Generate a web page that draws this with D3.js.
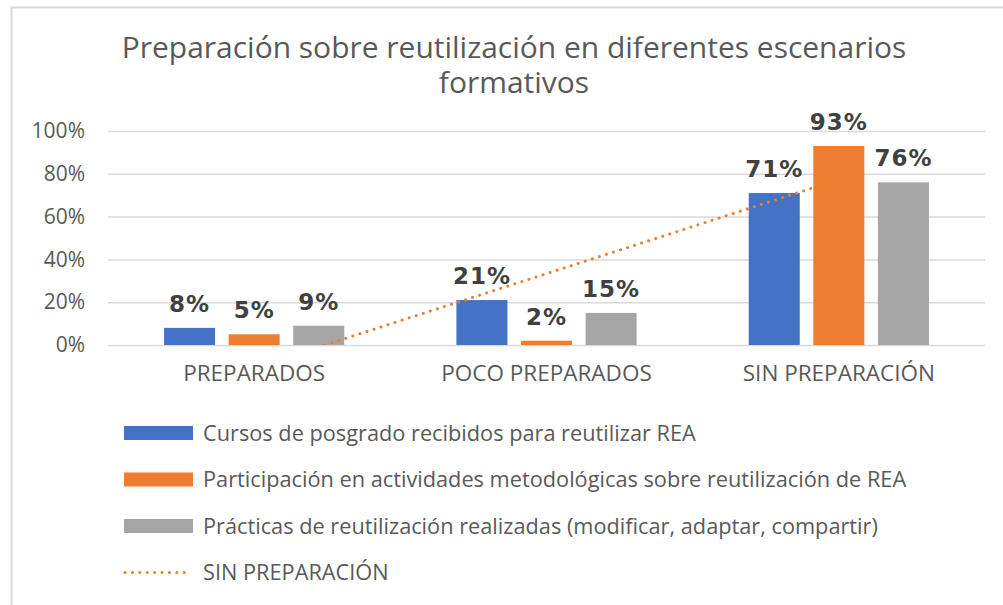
<!DOCTYPE html>
<html>
<head>
<meta charset="utf-8">
<script src="https://cdn.jsdelivr.net/npm/d3@7"></script>
<style>
  body { margin: 0; background: #fff; }
  svg { display: block; }
  .tick text { fill: #595959; }
</style>
</head>
<body>
<div id="chart"></div>
<script>
    'use strict';
    var titleLines = ['Preparación sobre reutilización en diferentes escenarios', 'formativos'];
    var categories = ['PREPARADOS', 'POCO PREPARADOS', 'SIN PREPARACIÓN'];
    var seriesNames = [
        'Cursos de posgrado recibidos para reutilizar REA',
        'Participación en actividades metodológicas sobre reutilización de REA',
        'Prácticas de reutilización realizadas (modificar, adaptar, compartir)'
    ];
    var cursos = [0.08, 0.21, 0.71];
    var participacion = [0.05, 0.02, 0.93];
    var practicas = [0.09, 0.15, 0.76];
    var trendName = 'SIN PREPARACIÓN';
    var yTicks = [0, 0.2, 0.4, 0.6, 0.8, 1];
    var colors = ['#4472C4', '#ED7D31', '#A5A5A5'];

    var values = [cursos, participacion, practicas];
    var width = 1003, height = 605;
    var margin = { top: 131, right: 18, bottom: 260, left: 108 };

    var svg = d3.select('#chart').append('svg')
        .attr('width', width)
        .attr('height', height);

    // chart area border (cut by the window on the right and bottom)
    svg.append('rect')
        .attr('x', 11.5).attr('y', 7.5)
        .attr('width', 1100).attr('height', 700)
        .attr('fill', 'none')
        .attr('stroke', '#d9d9d9')
        .attr('stroke-width', 2);

    var x = d3.scaleBand()
        .domain(categories)
        .range([margin.left, width - margin.right]);
    var xs = d3.scaleBand()
        .domain(d3.range(seriesNames.length))
        .range([0, x.bandwidth()])
        .paddingInner(0.21)
        .paddingOuter(0.868);
    var y = d3.scaleLinear()
        .domain([0, 1])
        .range([height - margin.bottom, margin.top]);

    // shrink or grow a text so that it takes the width
    function fitWidth(sel, base, target) {
        sel.style('font-size', base + 'px');
        var w = sel.node().getComputedTextLength();
        sel.style('font-size', (base * target / w) + 'px');
        return base * target / w;
    }

    // title
    var title = svg.append('text')
        .attr('text-anchor', 'middle')
        .attr('fill', '#595959')
        .style('font-family', 'Open Sans');
    title.selectAll('tspan').data(titleLines).enter().append('tspan')
        .attr('x', 514)
        .attr('y', function (d, i) { return 58 + i * 35; })
        .text(function (d) { return d; });
    var tsize = 26;
    title.style('font-size', tsize + 'px');
    var tw = title.select('tspan').node().getComputedTextLength();
    title.style('font-size', (tsize * 785 / tw) + 'px');

    // grid + y axis
    var yAxis = svg.append('g')
        .attr('transform', 'translate(' + margin.left + ',0)')
        .call(d3.axisLeft(y).tickValues(yTicks).tickFormat(d3.format('.0%'))
            .tickSize(-(width - margin.left - margin.right)).tickPadding(23));
    yAxis.select('.domain').remove();
    yAxis.selectAll('.tick line').attr('stroke', '#d9d9d9').attr('stroke-width', 1.5);
    yAxis.selectAll('.tick text')
        .style('font-family', 'Open Sans')
        .style('font-size', '21px');

    // x axis labels
    var xAxis = svg.append('g')
        .attr('transform', 'translate(0,' + y(0) + ')')
        .call(d3.axisBottom(x).tickSize(0).tickPadding(20));
    xAxis.select('.domain').remove();
    xAxis.selectAll('.tick text')
        .style('font-family', 'Open Sans')
        .style('font-size', '22.5px');

    function drawSeries(s) {
        svg.append('g').selectAll('rect')
            .data(values[s]).enter().append('rect')
            .attr('x', function (d, i) { return x(categories[i]) + xs(s); })
            .attr('y', function (d) { return y(d); })
            .attr('width', xs.bandwidth())
            .attr('height', function (d) { return y(0) - y(d); })
            .attr('fill', colors[s]);
    }

    // linear trendline of the orange series
    var idx = d3.range(categories.length);
    var mx = d3.mean(idx), my = d3.mean(participacion);
    var slope = d3.sum(idx, function (i) { return (i - mx) * (participacion[i] - my); }) /
        d3.sum(idx, function (i) { return (i - mx) * (i - mx); });
    var trend = idx.map(function (i) { return my + slope * (i - mx); });

    svg.append('defs').append('clipPath').attr('id', 'plotclip')
        .append('rect')
        .attr('x', margin.left).attr('y', margin.top)
        .attr('width', width - margin.left - margin.right)
        .attr('height', y(0) - margin.top);

    drawSeries(0);
    drawSeries(2);
    svg.append('path')
        .datum(trend)
        .attr('clip-path', 'url(#plotclip)')
        .attr('fill', 'none')
        .attr('stroke', colors[1])
        .attr('stroke-width', 3)
        .attr('stroke-linecap', 'round')
        .attr('stroke-dasharray', '0.1 7.3')
        .attr('d', d3.line()
            .x(function (d, i) { return x(categories[i]) + x.bandwidth() / 2; })
            .y(function (d) { return y(d); }));
    drawSeries(1);

    // data labels
    values.forEach(function (vals, s) {
        svg.append('g').selectAll('text')
            .data(vals).enter().append('text')
            .attr('x', function (d, i) { return x(categories[i]) + xs(s) + xs.bandwidth() / 2; })
            .attr('y', function (d) { return y(d) - 16; })
            .attr('text-anchor', 'middle')
            .attr('fill', '#404040')
            .style('font-family', 'DejaVu Sans')
            .style('font-weight', 'bold')
            .style('font-size', '23px')
            .style('letter-spacing', '1px')
            .text(function (d) { return d3.format('.0%')(d); });
    });

    // legend
    var legend = svg.append('g');
    var items = seriesNames.concat([trendName]);
    var legendSize = null;
    items.forEach(function (name, i) {
        var ly = 433 + i * 46.5;
        if (i < 3) {
            legend.append('rect')
                .attr('x', 124).attr('y', ly - 7)
                .attr('width', 69).attr('height', 14)
                .attr('fill', colors[i]);
        } else {
            legend.append('line')
                .attr('x1', 125).attr('x2', 189)
                .attr('y1', ly).attr('y2', ly)
                .attr('stroke', colors[1])
                .attr('stroke-width', 3)
                .attr('stroke-linecap', 'round')
                .attr('stroke-dasharray', '0.1 7.3');
        }
        var t = legend.append('text')
            .attr('x', 203).attr('y', ly)
            .attr('dy', '0.35em')
            .attr('fill', '#595959')
            .style('font-family', 'Open Sans')
            .text(name);
        if (i === 0) legendSize = fitWidth(t, 18, 493);
        else t.style('font-size', legendSize + 'px');
    });
</script>
</body>
</html>
